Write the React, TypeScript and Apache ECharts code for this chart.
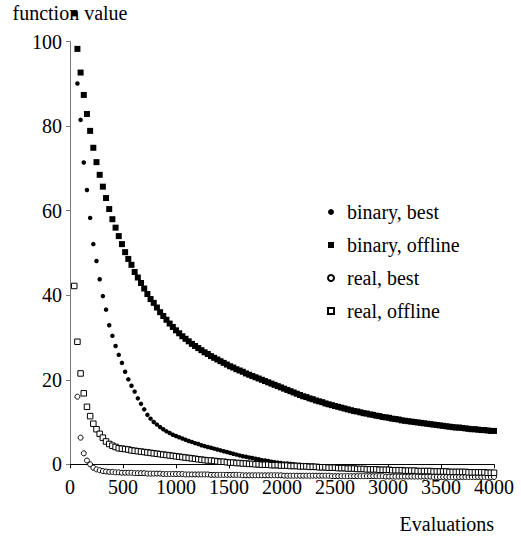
import React, { useEffect, useRef } from "react";
import * as echarts from "echarts";

// Evaluation counts at which each run was sampled
const EVALS = [
  40, 70, 100, 130, 160, 190, 220, 250, 280, 310,
  340, 370, 400, 430, 460, 490, 520, 550, 580, 610,
  640, 670, 700, 730, 760, 790, 820, 850, 880, 910,
  940, 970, 1000, 1030, 1060, 1090, 1120, 1150, 1180, 1210,
  1240, 1270, 1300, 1330, 1360, 1390, 1420, 1450, 1480, 1510,
  1540, 1570, 1600, 1630, 1660, 1690, 1720, 1750, 1780, 1810,
  1840, 1870, 1900, 1930, 1960, 1990, 2020, 2050, 2080, 2110,
  2140, 2170, 2200, 2230, 2260, 2290, 2320, 2350, 2380, 2410,
  2440, 2470, 2500, 2530, 2560, 2590, 2620, 2650, 2680, 2710,
  2740, 2770, 2800, 2830, 2860, 2890, 2920, 2950, 2980, 3010,
  3040, 3070, 3100, 3130, 3160, 3190, 3220, 3250, 3280, 3310,
  3340, 3370, 3400, 3430, 3460, 3490, 3520, 3550, 3580, 3610,
  3640, 3670, 3700, 3730, 3760, 3790, 3820, 3850, 3880, 3910,
  3940, 3970, 4000,
];

const BINARY_BEST = [
  null, 90.1, 81.5, 71.4, 64.9, 58.3, 52.1, 48.1, 43.8, 39.8,
  36.6, 32.9, 30.4, 28.0, 25.9, 24.0, 21.9, 20.1, 18.6, 17.2,
  15.6, 14.3, 13.0, 11.7, 10.8, 10.0, 9.4, 8.8, 8.3, 7.8,
  7.4, 7.0, 6.7, 6.4, 6.1, 5.8, 5.5, 5.3, 5.0, 4.8,
  4.5, 4.3, 4.1, 3.9, 3.7, 3.5, 3.3, 3.1, 2.9, 2.7,
  2.5, 2.3, 2.1, 1.9, 1.8, 1.6, 1.5, 1.3, 1.2, 1.0,
  0.9, 0.8, 0.6, 0.5, 0.4, 0.3, 0.2, 0.2, 0.1, 0.0,
  -0.1, -0.1, -0.2, -0.2, -0.3, -0.3, -0.4, -0.4, -0.5, -0.5,
  -0.6, -0.6, -0.7, -0.7, -0.8, -0.8, -0.9, -0.9, -1.0, -1.0,
  -1.0, -1.1, -1.1, -1.2, -1.2, -1.3, -1.3, -1.3, -1.4, -1.4,
  -1.5, -1.5, -1.5, -1.6, -1.6, -1.6, -1.7, -1.7, -1.7, -1.8,
  -1.8, -1.8, -1.9, -1.9, -1.9, -1.9, -2.0, -2.0, -2.0, -2.0,
  -2.1, -2.1, -2.1, -2.1, -2.2, -2.2, -2.2, -2.2, -2.3, -2.3,
  -2.3, -2.3, -2.4,
];

const BINARY_OFFLINE = [
  106.7, 98.3, 92.7, 87.4, 82.9, 78.9, 74.9, 71.5, 68.5, 65.7,
  63.0, 60.4, 58.0, 56.0, 54.0, 52.1, 50.2, 48.6, 47.2, 45.5,
  44.2, 42.9, 41.6, 40.3, 39.1, 38.2, 37.1, 36.0, 35.1, 34.2,
  33.3, 32.5, 31.7, 31.0, 30.3, 29.7, 29.1, 28.5, 28.0, 27.5,
  27.0, 26.5, 26.1, 25.6, 25.2, 24.8, 24.4, 24.0, 23.6, 23.2,
  22.9, 22.5, 22.2, 21.9, 21.5, 21.2, 20.9, 20.6, 20.3, 20.0,
  19.7, 19.4, 19.1, 18.8, 18.5, 18.2, 17.9, 17.6, 17.3, 17.0,
  16.7, 16.4, 16.1, 15.9, 15.6, 15.4, 15.1, 14.9, 14.7, 14.4,
  14.2, 14.0, 13.8, 13.6, 13.4, 13.2, 13.0, 12.8, 12.6, 12.5,
  12.3, 12.1, 12.0, 11.8, 11.7, 11.5, 11.4, 11.2, 11.1, 11.0,
  10.8, 10.7, 10.6, 10.4, 10.3, 10.2, 10.1, 10.0, 9.9, 9.8,
  9.7, 9.6, 9.5, 9.4, 9.3, 9.2, 9.1, 9.0, 8.9, 8.8,
  8.7, 8.7, 8.6, 8.5, 8.4, 8.3, 8.3, 8.2, 8.1, 8.1,
  8.0, 7.9, 7.9,
];

const REAL_BEST = [
  null, 16.0, 6.3, 2.6, 0.9, 0.0, -0.8, -1.2, -1.4, -1.6,
  -1.7, -1.8, -1.8, -1.9, -1.9, -2.0, -2.0, -2.0, -2.0, -2.1,
  -2.1, -2.1, -2.1, -2.2, -2.2, -2.2, -2.2, -2.2, -2.3, -2.3,
  -2.3, -2.3, -2.3, -2.3, -2.3, -2.4, -2.4, -2.4, -2.4, -2.4,
  -2.4, -2.4, -2.4, -2.5, -2.5, -2.5, -2.5, -2.5, -2.5, -2.5,
  -2.5, -2.5, -2.5, -2.6, -2.6, -2.6, -2.6, -2.6, -2.6, -2.6,
  -2.6, -2.6, -2.6, -2.6, -2.6, -2.6, -2.7, -2.7, -2.7, -2.7,
  -2.7, -2.7, -2.7, -2.7, -2.7, -2.7, -2.7, -2.7, -2.7, -2.7,
  -2.7, -2.8, -2.8, -2.8, -2.8, -2.8, -2.8, -2.8, -2.8, -2.8,
  -2.8, -2.8, -2.8, -2.8, -2.8, -2.8, -2.8, -2.8, -2.9, -2.9,
  -2.9, -2.9, -2.9, -2.9, -2.9, -2.9, -2.9, -2.9, -2.9, -2.9,
  -2.9, -2.9, -2.9, -3.0, -3.0, -3.0, -3.0, -3.0, -3.0, -3.0,
  -3.0, -3.0, -3.0, -3.0, -3.0, -3.0, -3.0, -3.0, -3.0, -3.0,
  -3.0, -3.0, -3.0,
];

const REAL_OFFLINE = [
  42.2, 29.0, 21.5, 16.8, 13.6, 11.4, 9.6, 8.3, 7.2, 6.3,
  5.4, 4.8, 4.4, 4.1, 3.8, 3.7, 3.6, 3.5, 3.3, 3.2,
  3.1, 3.0, 2.9, 2.8, 2.7, 2.6, 2.5, 2.4, 2.3, 2.2,
  2.1, 2.0, 1.9, 1.8, 1.7, 1.6, 1.5, 1.4, 1.3, 1.2,
  1.1, 1.0, 0.9, 0.9, 0.8, 0.7, 0.6, 0.6, 0.5, 0.4,
  0.4, 0.3, 0.3, 0.2, 0.2, 0.1, 0.1, 0.0, 0.0, -0.1,
  -0.1, -0.1, -0.2, -0.2, -0.2, -0.3, -0.3, -0.3, -0.4, -0.4,
  -0.4, -0.5, -0.5, -0.5, -0.6, -0.6, -0.6, -0.7, -0.7, -0.7,
  -0.8, -0.8, -0.8, -0.9, -0.9, -0.9, -1.0, -1.0, -1.0, -1.1,
  -1.1, -1.1, -1.2, -1.2, -1.2, -1.2, -1.3, -1.3, -1.3, -1.3,
  -1.4, -1.4, -1.4, -1.4, -1.5, -1.5, -1.5, -1.5, -1.6, -1.6,
  -1.6, -1.6, -1.6, -1.7, -1.7, -1.7, -1.7, -1.7, -1.8, -1.8,
  -1.8, -1.8, -1.8, -1.8, -1.9, -1.9, -1.9, -1.9, -1.9, -1.9,
  -2.0, -2.0, -2.0,
];

const SERIES_NAMES = ["binary, best", "binary, offline", "real, best", "real, offline"];
const X_TICKS = { min: 0, max: 4000, interval: 500 };
const Y_TICKS = { min: 0, max: 100, interval: 20 };

const FONT = "Liberation Serif";

function pairs(vals: (number | null)[]) {
  const out: [number, number][] = [];
  vals.forEach((v, i) => {
    if (v !== null) out.push([EVALS[i], v]);
  });
  return out;
}

export default function App() {
  const ref = useRef<HTMLDivElement>(null);

  useEffect(() => {
    if (!ref.current) return;
    const chart = echarts.init(ref.current, undefined, { renderer: "svg" });
    const hollow = { color: "#fff", borderColor: "#000", borderWidth: 1, opacity: 1 };
    const solid = { color: "#000", opacity: 1 };
    chart.setOption({
      animation: false,
      backgroundColor: "#fff",
      textStyle: { fontFamily: FONT },
      grid: { left: 70, right: 27, top: 41.7, bottom: 76.7, containLabel: false },
      legend: {
        orient: "vertical",
        left: 322,
        top: 197,
        itemWidth: 6,
        itemHeight: 6,
        itemGap: 13,
        selectedMode: false,
        textStyle: { fontFamily: FONT, fontSize: 20, color: "#000", padding: [0, 0, 0, 8] },
        data: SERIES_NAMES,
      },
      xAxis: {
        type: "value",
        ...X_TICKS,
        name: "Evaluations",
        nameLocation: "end",
        nameGap: 0,
        nameTextStyle: {
          fontFamily: FONT,
          fontSize: 20,
          color: "#000",
          align: "right",
          verticalAlign: "top",
          padding: [50, 0, 0, 0],
        },
        axisLine: { show: true, lineStyle: { color: "#000", width: 1 } },
        axisTick: { show: true, length: 4, lineStyle: { color: "#000" } },
        axisLabel: {
          color: "#000",
          fontFamily: FONT,
          fontSize: 20,
          margin: 13,
          formatter: (v: number) => String(v),
        },
        splitLine: { show: false },
      },
      yAxis: {
        type: "value",
        ...Y_TICKS,
        name: "function value",
        nameLocation: "end",
        nameGap: 19,
        nameTextStyle: { fontFamily: FONT, fontSize: 20, color: "#000", align: "center" },
        axisLine: { show: true, lineStyle: { color: "#777", width: 1 } },
        axisTick: { show: true, length: 4, lineStyle: { color: "#777" } },
        axisLabel: {
          color: "#000",
          fontFamily: FONT,
          fontSize: 20,
          margin: 8,
          formatter: (v: number) => String(v),
        },
        splitLine: { show: false },
      },
      series: [
        {
          name: SERIES_NAMES[0],
          type: "scatter",
          clip: false,
          symbol: "circle",
          symbolSize: 4.5,
          itemStyle: solid,
          data: pairs(BINARY_BEST),
        },
        {
          name: SERIES_NAMES[1],
          type: "scatter",
          clip: false,
          symbol: "rect",
          symbolSize: 6,
          itemStyle: solid,
          data: pairs(BINARY_OFFLINE),
        },
        {
          name: SERIES_NAMES[2],
          type: "scatter",
          clip: false,
          symbol: "circle",
          symbolSize: 5,
          itemStyle: hollow,
          data: pairs(REAL_BEST),
        },
        {
          name: SERIES_NAMES[3],
          type: "scatter",
          clip: false,
          symbol: "rect",
          symbolSize: 5.5,
          itemStyle: hollow,
          data: pairs(REAL_OFFLINE),
        },
      ],
    });
    return () => chart.dispose();
  }, []);

  return (
    <div
      ref={ref}
      style={{ position: "fixed", left: 0, top: 0, width: 521, height: 541, background: "#fff" }}
    />
  );
}
